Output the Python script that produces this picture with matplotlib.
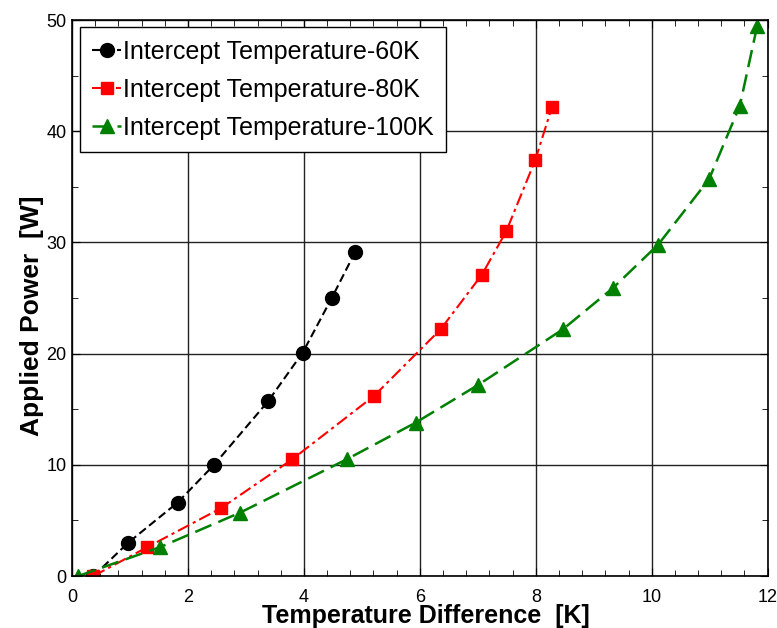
import matplotlib.pyplot as plt
from matplotlib.ticker import MultipleLocator

plt.rcParams['font.family'] = ['Liberation Sans', 'DejaVu Sans']

# Intercept Temperature-60K
dt_60 = [0.37, 0.97, 1.82, 2.45, 3.38, 3.98, 4.48, 4.88]
p_60 = [0.0, 3.0, 6.6, 10.0, 15.7, 20.1, 25.0, 29.1]

# Intercept Temperature-80K
dt_80 = [0.37, 1.30, 2.57, 3.80, 5.21, 6.36, 7.07, 7.49, 7.99, 8.28]
p_80 = [0.0, 2.6, 6.1, 10.5, 16.2, 22.2, 27.1, 31.0, 37.4, 42.2]

# Intercept Temperature-100K
dt_100 = [0.11, 1.52, 2.90, 4.74, 5.93, 7.01, 8.47, 9.33, 10.11, 10.99, 11.52, 11.82]
p_100 = [0.0, 2.6, 5.7, 10.5, 13.8, 17.2, 22.2, 25.9, 29.8, 35.7, 42.3, 49.5]

fig = plt.figure(figsize=(7.77, 6.28), dpi=100)
ax = fig.add_axes([0.0927, 0.0828, 0.8953, 0.8852])

ax.plot(dt_60, p_60, color='black', linestyle=(0, (4, 2)), linewidth=1.5,
        marker='o', markersize=10, label='Intercept Temperature-60K')
ax.plot(dt_80, p_80, color='red', linestyle=(0, (6, 2, 1.5, 2)), linewidth=1.5,
        marker='s', markersize=8, label='Intercept Temperature-80K')
ax.plot(dt_100, p_100, color='green', linestyle=(0, (7, 3)), linewidth=1.8,
        marker='^', markersize=9.5, label='Intercept Temperature-100K')

ax.set_xlim(0, 12)
ax.set_ylim(0, 50)
ax.xaxis.set_major_locator(MultipleLocator(2))
ax.xaxis.set_minor_locator(MultipleLocator(0.4))
ax.yaxis.set_major_locator(MultipleLocator(10))
ax.yaxis.set_minor_locator(MultipleLocator(5))
ax.tick_params(which='both', direction='in', top=True, right=True, labelsize=13, colors='black')
ax.tick_params(which='major', length=6)
ax.tick_params(which='minor', length=4)
ax.tick_params(axis='x', pad=9)
ax.tick_params(axis='y', pad=4)
ax.grid(which='major', color='#222222', linewidth=1.0)
for s in ax.spines.values():
    s.set_linewidth(1.2)

ax.set_xlabel('Temperature Difference  [K]', fontsize=18, fontweight='bold', va='top')
ax.set_ylabel('Applied Power  [W]', fontsize=19, fontweight='bold')
ax.xaxis.set_label_coords(0.508, -0.050)
ax.yaxis.set_label_coords(-0.040, 0.469)

leg = ax.legend(loc='upper left', bbox_to_anchor=(0.0115, 0.987), borderaxespad=0,
                fontsize=18, handlelength=1.16, handletextpad=0.08, labelspacing=0.57,
                fancybox=False, framealpha=1, edgecolor='black', borderpad=0.49)
leg.get_frame().set_linewidth(1.0)

fig.savefig('out.png', dpi=100)
